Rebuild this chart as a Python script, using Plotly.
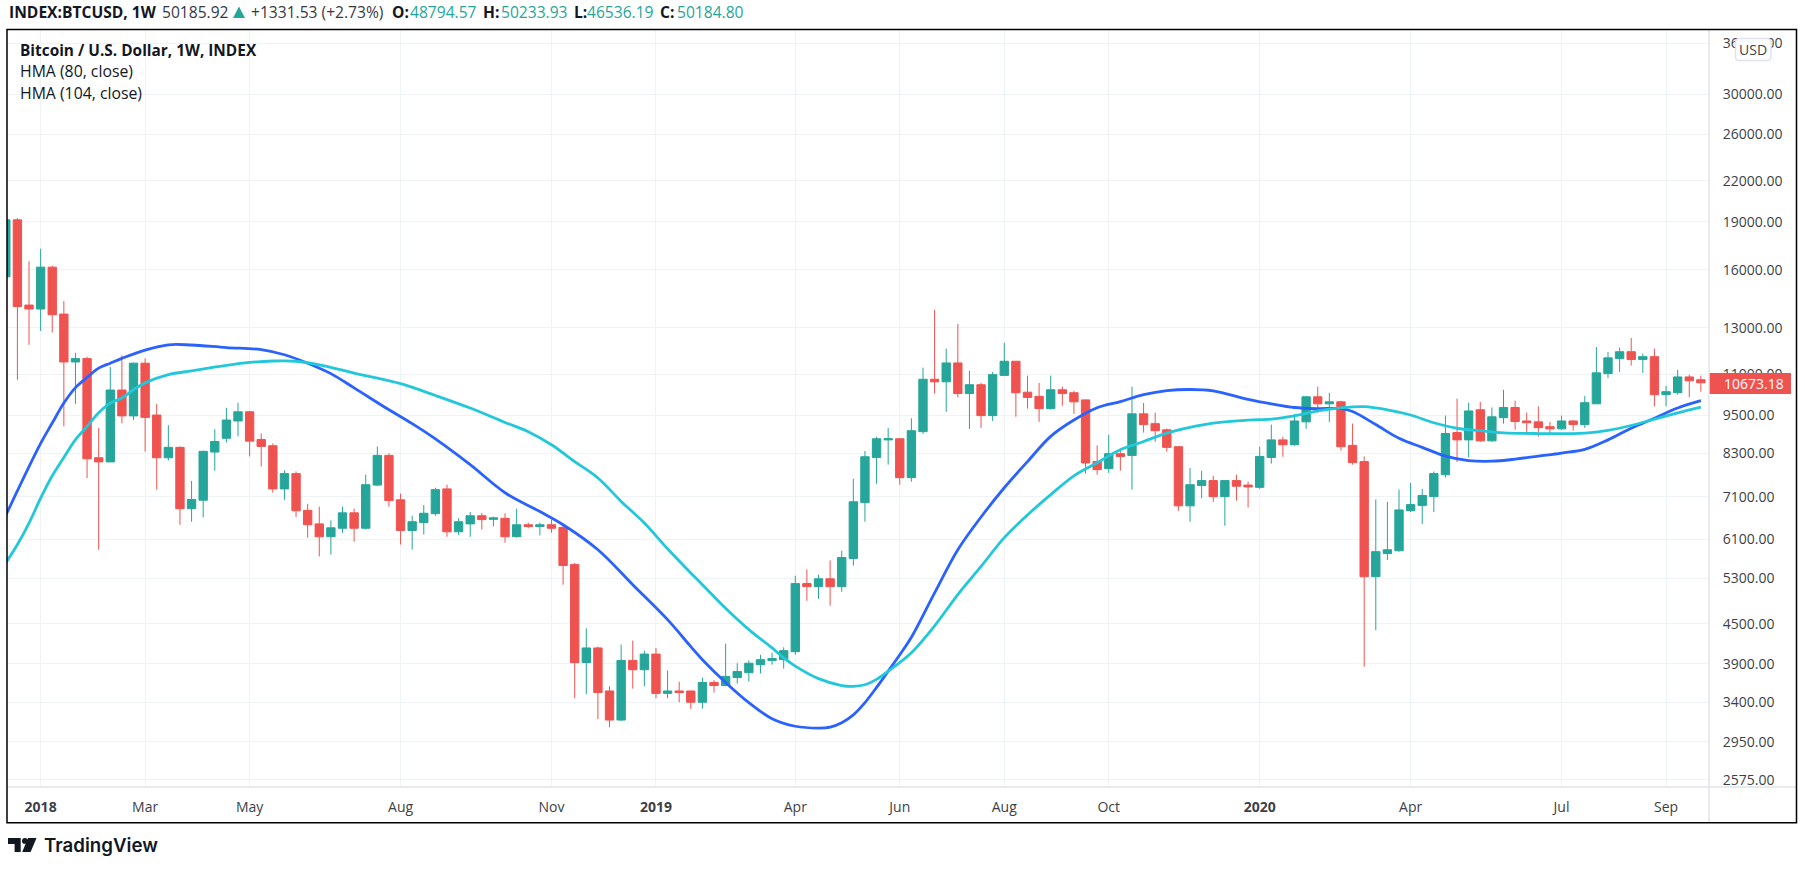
import datetime as dt
import math
import plotly.graph_objects as go

FIRST_WEEK = dt.date(2017, 12, 11)

opens = [
    15600,19130,14100,13900,16150,13650,11500,11640,8160,8040,
    10400,9480,11450,9510,8160,8470,6800,7010,8330,8750,
    9310,9620,8710,8520,7300,7710,6760,6440,6150,6340,
    6700,6340,7400,8230,7020,6290,6470,6680,7300,6260,
    6440,6630,6545,6570,6150,6420,6380,6420,6360,5570,
    3920,4130,3540,3190,3950,3820,4040,3510,3540,3540,
    3400,3650,3610,3715,3780,3890,3950,3960,4075,5200,
    5145,5290,5145,5690,6950,8170,8700,8735,7600,8960,
    10810,10710,11460,10270,10600,9490,10960,11530,10320,10170,
    9730,10410,10300,10040,8050,7850,8280,8230,9550,9220,
    9020,8490,6870,7390,7520,7100,7520,7400,7340,8170,
    8700,8550,9280,10150,9900,9970,8530,8050,5330,5790,
    5850,6750,6880,7100,7680,8930,8700,9690,8670,9420,
    9770,9310,9280,9120,9050,9310,9190,9900,11030,11640,
    11930,11600,11720,10230,10300,10900,10790,
]
highs = [
    19300,19250,16500,17250,16240,14300,11880,11720,9080,11300,
    11770,11480,11650,9900,9170,8500,7510,8370,9040,9760,
    9935,9650,8900,8590,7800,7770,6920,6850,6520,6850,
    6800,7680,8500,8290,7180,6630,6890,7330,7410,6570,
    6720,6700,6610,6690,6800,6470,6470,6540,6400,5600,
    4430,4150,3600,4180,4240,4090,4130,3810,3660,3540,
    3714,3680,4195,3910,3950,4030,4060,4140,5350,5470,
    5370,5650,5850,7570,8360,8800,9080,8740,9400,11270,
    13860,12060,13180,11150,10670,11100,12320,11530,10950,10670,
    10950,10530,10370,10040,8530,8860,8430,10530,9930,9590,
    9060,8500,7870,7790,7650,7520,7680,7490,8490,9190,
    8800,9550,10180,10530,10300,10010,9220,8200,7030,6970,
    7280,7460,7300,7770,9490,10080,9940,9970,9770,10410,
    10010,9590,9810,9280,9490,9340,10180,12130,11920,12110,
    12530,11850,12060,10560,11180,10990,10950,
]
lows = [
    15000,10790,12230,12850,12780,9130,9900,7590,5870,8040,
    9230,9340,8340,7280,8080,6420,6490,6590,7790,8620,
    8810,8200,7910,7200,7020,6600,6130,5730,5770,6240,
    6040,6310,7370,6850,5980,5870,6200,6630,6150,6190,
    6150,6310,6380,6020,6130,6340,6180,6240,5180,3450,
    3500,3200,3110,3180,3570,3600,3450,3450,3400,3320,
    3324,3520,3600,3635,3660,3770,3890,3835,4030,4890,
    4925,4805,5050,5545,6490,7435,7960,7410,7490,8890,
    10270,9620,10130,9050,9080,9310,10960,9450,9730,9280,
    9700,9830,9550,7710,7680,7730,7790,7280,8930,8640,
    8340,6750,6490,7060,6970,6400,7000,6830,7300,7990,
    8190,8520,9050,9590,9280,8370,7960,3860,4400,5660,
    5830,6720,6440,6720,7600,8040,8170,8640,8640,9220,
    9020,8860,8800,8860,9020,8990,9080,9900,10860,11100,
    11350,11060,9810,9810,10230,10130,10340,
]
closes = [
    19130,14025,13900,16150,13620,11500,11640,8130,8040,10400,
    9480,11450,9430,8160,8470,6800,7030,8350,8650,9340,
    9620,8660,8500,7300,7710,6750,6420,6150,6350,6700,
    6340,7410,8230,7000,6290,6490,6690,7280,6260,6490,
    6630,6540,6580,6150,6420,6380,6420,6340,5550,3920,
    4130,3520,3190,3950,3820,4040,3510,3540,3520,3400,
    3650,3610,3730,3795,3910,3960,3975,4090,5200,5145,
    5290,5145,5710,6970,8190,8735,8735,7600,8990,10810,
    10710,11460,10270,10600,9490,10990,11530,10300,10130,9730,
    10410,10270,9970,8010,7820,8280,8200,9550,9190,8990,
    8470,6870,7410,7520,7100,7520,7370,7350,8200,8700,
    8550,9310,10150,9900,9970,8490,8020,5330,5830,5870,
    6770,6900,7130,7710,8900,8700,9650,8670,9450,9770,
    9290,9250,9090,9050,9310,9190,9940,11060,11670,11930,
    11600,11720,10230,10340,10900,10750,10673.18,
]

hma80_weeks = [
    0,3,4,5,6,7,8,9,10,12,14,16,19,22,24,26,28,30,33,35,
    37,40,43,46,48,51,54,57,59,60,62,64,66,68,70,71,72,73,74,75,
    76,77,78,80,82,84,86,88,90,92,94,96,98,100,102,104,107,109,111,113,
    115,116,118,120,122,124,126,128,130,132,134,136,138,140,142,144,146,
]
hma80 = [
    6640,8590,9240,9925,10490,10880,11250,11450,11650,12000,
    12230,12220,12110,12020,11800,11450,11030,10480,9690,9220,
    8730,7960,7200,6730,6420,5870,5180,4570,4150,3960,
    3650,3395,3205,3120,3100,3110,3160,3250,3395,3585,
    3800,4030,4290,5030,5870,6600,7330,8050,8810,9340,
    9760,9980,10230,10380,10420,10370,10060,9900,9770,9730,
    9730,9630,9190,8750,8470,8210,8080,8060,8120,8210,
    8300,8410,8700,9070,9400,9750,10010,
]
hma104_weeks = [
    0,1,2,3,4,5,6,7,8,9,10,11,12,14,16,19,21,23,25,27,
    30,34,37,40,43,45,47,49,51,53,55,57,59,60,62,64,66,67,68,70,
    72,73,74,75,76,78,80,82,84,86,88,90,92,94,96,98,100,102,104,107,
    109,111,113,115,117,119,121,123,125,127,129,132,136,138,140,142,144,146,
]
hma104 = [
    5600,5980,6460,7060,7650,8170,8710,9130,9590,9925,
    10110,10410,10670,10990,11140,11360,11480,11540,11530,11380,
    11050,10640,10200,9750,9260,8960,8550,8050,7590,6980,
    6460,5890,5400,5180,4760,4410,4130,3985,3870,3700,
    3610,3600,3620,3690,3800,4060,4470,5000,5530,6130,
    6650,7150,7650,8015,8400,8650,8915,9100,9240,9340,
    9370,9480,9650,9760,9800,9690,9510,9250,9070,8990,
    8920,8900,8915,9000,9160,9370,9580,9780,
]

price_ticks = [36000,30000,26000,22000,19000,16000,13000,11000,9500,8300,
               7100,6100,5300,4500,3900,3400,2950,2575]
time_tick_weeks = [3,12,21,34,47,56,68,77,86,95,108,121,134,143]
time_tick_labels = ["<b>2018</b>","Mar","May","Aug","Nov","<b>2019</b>","Apr","Jun",
                    "Aug","Oct","<b>2020</b>","Apr","Jul","Sep"]

TEAL, RED = "#26a69a", "#ef5350"
INK, AXIS_INK, GRID, EDGE = "#131722", "#3c3f48", "#f0f3f5", "#e0e3eb"
FONT = "Open Sans, sans-serif"

W, H = 1805, 869
L, R, T, B = 7, 1709, 30, 787


def week_date(w):
    return (dt.datetime(FIRST_WEEK.year, FIRST_WEEK.month, FIRST_WEEK.day)
            + dt.timedelta(days=7 * w))


def px(x):
    return (x - L) / (R - L)


def py(y):
    return 1 - (y - T) / (B - T)


fig = go.Figure()
fig.add_trace(go.Candlestick(
    x=[week_date(i) for i in range(len(opens))],
    open=opens, high=highs, low=lows, close=closes,
    whiskerwidth=0,
    increasing=dict(line=dict(color=TEAL, width=1), fillcolor=TEAL),
    decreasing=dict(line=dict(color=RED, width=1), fillcolor=RED),
    name="BTCUSD",
))
fig.add_trace(go.Scatter(
    x=[week_date(w) for w in hma80_weeks], y=hma80, mode="lines",
    line=dict(color="#2962ff", width=2.8, shape="spline", smoothing=1.0),
    name="HMA (80, close)",
))
fig.add_trace(go.Scatter(
    x=[week_date(w) for w in hma104_weeks], y=hma104, mode="lines",
    line=dict(color="#22c8da", width=2.8, shape="spline", smoothing=1.0),
    name="HMA (104, close)",
))


def note(x, y, text, size=15.6, color=INK, **kw):
    font = dict(family=kw.pop("family", FONT), size=size, color=color)
    if "weight" in kw:
        font["weight"] = kw.pop("weight")
    return dict(xref="paper", yref="paper", x=px(x), y=py(y), text=text, showarrow=False,
                xanchor=kw.pop("xanchor", "left"), yanchor="middle",
                font=font, borderpad=0, **kw)


annotations = [
    note(8, 12.5, "<b>INDEX:BTCUSD, 1W</b>"),
    note(161, 12.5, "50185.92", color="#363a45"),
    note(250, 12.5, "+1331.53 (+2.73%)", color="#363a45"),
    note(391, 12.5, "<b>O:</b>"),
    note(409, 12.5, "48794.57", color=TEAL),
    note(482, 12.5, "<b>H:</b>"),
    note(500, 12.5, "50233.93", color=TEAL),
    note(573, 12.5, "<b>L:</b>"),
    note(586, 12.5, "46536.19", color=TEAL),
    note(659, 12.5, "<b>C:</b>"),
    note(676, 12.5, "50184.80", color=TEAL),
    note(18.5, 50.5, "<b>Bitcoin / U.S. Dollar, 1W, INDEX</b>", size=15.4),
    note(18.5, 71.5, "HMA (80, close)", size=15.8),
    note(18.5, 92.5, "HMA (104, close)", size=15.8),
    note(1722.5, 383.5, "10673.18", size=14, color="#ffffff"),
    note(1753, 49.5, "USD", size=14, color=AXIS_INK, xanchor="center"),
    note(43, 845, "TradingView", size=18.7, color=INK, family="Inter, sans-serif", weight=600),
]


def box(x0, y0, x1, y1, **kw):
    return dict(type="rect", xref="paper", yref="paper", x0=px(x0), x1=px(x1),
                y0=py(y0), y1=py(y1), layer="above", **kw)


def poly(points, color):
    d = "M" + " L".join(f"{px(a):.6f},{py(b):.6f}" for a, b in points) + " Z"
    return dict(type="path", xref="paper", yref="paper", path=d, fillcolor=color,
                line=dict(width=0), layer="above")


def rounded(x0, y0, x1, y1, r):
    d = (f"M{px(x0 + r):.6f},{py(y0):.6f} L{px(x1 - r):.6f},{py(y0):.6f} "
         f"Q{px(x1):.6f},{py(y0):.6f} {px(x1):.6f},{py(y0 + r):.6f} "
         f"L{px(x1):.6f},{py(y1 - r):.6f} Q{px(x1):.6f},{py(y1):.6f} {px(x1 - r):.6f},{py(y1):.6f} "
         f"L{px(x0 + r):.6f},{py(y1):.6f} Q{px(x0):.6f},{py(y1):.6f} {px(x0):.6f},{py(y1 - r):.6f} "
         f"L{px(x0):.6f},{py(y0 + r):.6f} Q{px(x0):.6f},{py(y0):.6f} {px(x0 + r):.6f},{py(y0):.6f} Z")
    return dict(type="path", xref="paper", yref="paper", path=d, fillcolor="#ffffff",
                line=dict(color=EDGE, width=1.5), layer="above")


shapes = [
    box(1709, 373, 1791, 394, fillcolor=RED, line=dict(width=0)),
    rounded(1735.5, 38.5, 1771, 60.5, 4),
    dict(type="line", xref="paper", yref="paper", x0=px(1709), x1=px(1709), y0=py(30), y1=py(822.7),
         line=dict(color=EDGE, width=1.5), layer="above"),
    dict(type="line", xref="paper", yref="paper", x0=px(7), x1=px(1796.5), y0=py(787), y1=py(787),
         line=dict(color=EDGE, width=1.5), layer="above"),
    box(7, 29.5, 1796.5, 822.7, line=dict(color="#000000", width=1.5)),
    poly([(233, 18), (239, 6.5), (245, 18)], TEAL),
    poly([(8, 838), (20.7, 838), (20.7, 852), (14.6, 852), (14.6, 844), (8, 844)], INK),
    poly([(28, 838), (36.5, 838), (30.6, 852), (22.2, 852)], INK),
    dict(type="circle", xref="paper", yref="paper", x0=px(22), x1=px(27.8), y0=py(838), y1=py(843.8),
         fillcolor=INK, line=dict(width=0), layer="above"),
]

fig.update_layout(
    width=W, height=H,
    margin=dict(l=L, r=W - R, t=T, b=H - B, pad=0),
    paper_bgcolor="#ffffff", plot_bgcolor="#ffffff",
    showlegend=False, boxgap=0.1, boxgroupgap=0.2,
    font=dict(family=FONT, color=AXIS_INK),
    annotations=annotations, shapes=shapes,
    xaxis=dict(
        type="date",
        range=[week_date(0.103), week_date(146.7)],
        rangeslider=dict(visible=False),
        tickmode="array",
        tickvals=[week_date(w) for w in time_tick_weeks],
        ticktext=time_tick_labels,
        ticks="outside", ticklen=7, tickcolor="rgba(0,0,0,0)",
        tickfont=dict(size=14, color=AXIS_INK),
        showgrid=True, gridcolor=GRID, gridwidth=1,
        showline=False, zeroline=False,
    ),
    yaxis=dict(
        type="log", side="right",
        range=[math.log10(2510), math.log10(37755)],
        tickmode="array",
        tickvals=price_ticks,
        ticktext=[f"{v}.00" for v in price_ticks],
        ticks="outside", ticklen=10, tickcolor="rgba(0,0,0,0)",
        tickfont=dict(size=14, color=AXIS_INK),
        showgrid=True, gridcolor=GRID, gridwidth=1,
        showline=False, zeroline=False,
    ),
)

fig.write_html("out.html", config=dict(displayModeBar=False),
               post_script="document.body.style.margin='0';document.body.style.overflow='hidden';")
